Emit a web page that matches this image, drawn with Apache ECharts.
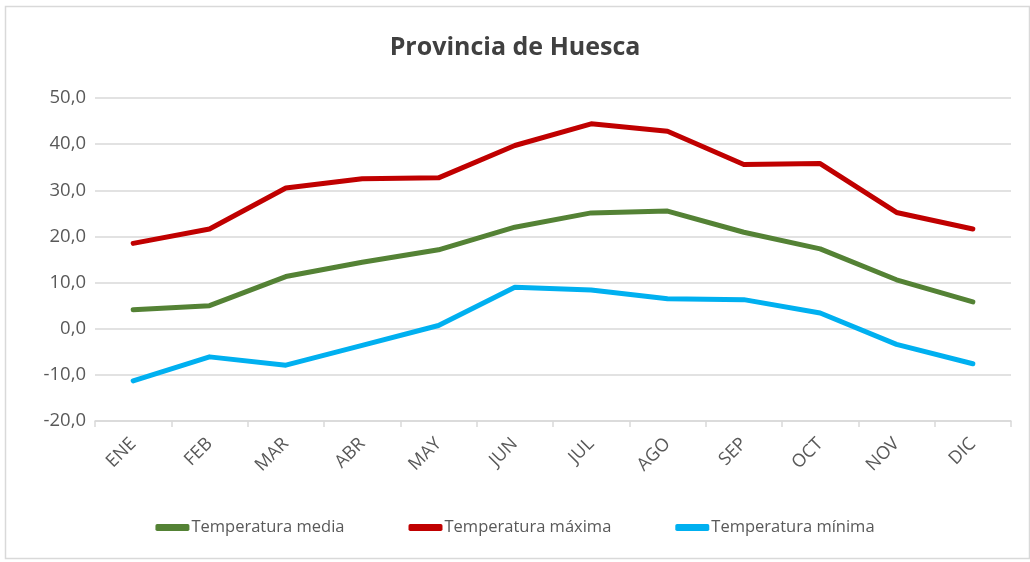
<!DOCTYPE html>
<html lang="es">
<head>
    <meta charset="UTF-8">
    <title>Provincia de Huesca</title>
    <style>
        html, body { margin: 0; padding: 0; background: #fff; }
        #main { width: 1030px; height: 562px; }
    </style>
    <script src="https://cdn.jsdelivr.net/npm/echarts@6/dist/echarts.min.js"></script>
</head>
<body>
<div id="main"></div>
<script>
    var meses = ['ENE', 'FEB', 'MAR', 'ABR', 'MAY', 'JUN', 'JUL', 'AGO', 'SEP', 'OCT', 'NOV', 'DIC'];
    var tMedia = [4.1, 5.0, 11.3, 14.4, 17.1, 22.0, 25.1, 25.5, 20.9, 17.3, 10.6, 5.8];
    var tMaxima = [18.5, 21.6, 30.5, 32.5, 32.7, 39.7, 44.4, 42.8, 35.6, 35.8, 25.2, 21.6];
    var tMinima = [-11.3, -6.1, -7.9, -3.6, 0.7, 9.0, 8.4, 6.5, 6.3, 3.4, -3.4, -7.6];

    var myChart = echarts.init(document.getElementById('main'));
    var fuente = '"Open Sans", "Liberation Sans", sans-serif';

    function serie(nombre, datos, color) {
        return {
            name: nombre,
            type: 'line',
            data: datos,
            showSymbol: false,
            symbol: 'none',
            lineStyle: { color: color, width: 5, cap: 'round', join: 'round' },
            itemStyle: { color: color }
        };
    }

    var option = {
        backgroundColor: '#fff',
        animation: false,
        textStyle: { fontFamily: fuente },
        title: {
            text: 'Provincia de Huesca',
            left: 'center',
            top: 30,
            textStyle: { fontSize: 25, fontWeight: 'bold', color: '#404040', fontFamily: fuente }
        },
        grid: { left: 95, right: 19, top: 98, bottom: 141, containLabel: false },
        legend: {
            bottom: 21,
            left: 'center',
            itemWidth: 34,
            itemHeight: 7,
            itemGap: 64,
            icon: 'roundRect',
            textStyle: { fontSize: 16.5, color: '#595959', padding: [0, 0, 0, -3] },
            data: ['Temperatura media', 'Temperatura máxima', 'Temperatura mínima']
        },
        xAxis: {
            type: 'category',
            data: meses,
            boundaryGap: true,
            axisLine: { onZero: false, lineStyle: { color: '#d9d9d9', width: 1.5 } },
            axisTick: { show: true, length: 6, lineStyle: { color: '#d9d9d9', width: 1.5 } },
            axisLabel: { rotate: 45, fontSize: 18, color: '#595959', margin: 20 }
        },
        yAxis: {
            type: 'value',
            min: -20,
            max: 50,
            interval: 10,
            axisLine: { show: false },
            axisTick: { show: false },
            splitLine: { lineStyle: { color: '#d9d9d9', width: 1.5 } },
            axisLabel: {
                fontSize: 18.5,
                color: '#595959',
                margin: 9,
                formatter: function (v) { return v.toFixed(1).replace('.', ','); }
            }
        },
        graphic: [{
            type: 'rect',
            left: 3, top: 4,
            shape: { width: 1024, height: 552 },
            style: { fill: 'none', stroke: '#d9d9d9', lineWidth: 1.5 },
            silent: true
        }],
        series: [
            serie('Temperatura media', tMedia, '#548235'),
            serie('Temperatura máxima', tMaxima, '#c00000'),
            serie('Temperatura mínima', tMinima, '#00b0f0')
        ]
    };

    myChart.setOption(option);
</script>
</body>
</html>
